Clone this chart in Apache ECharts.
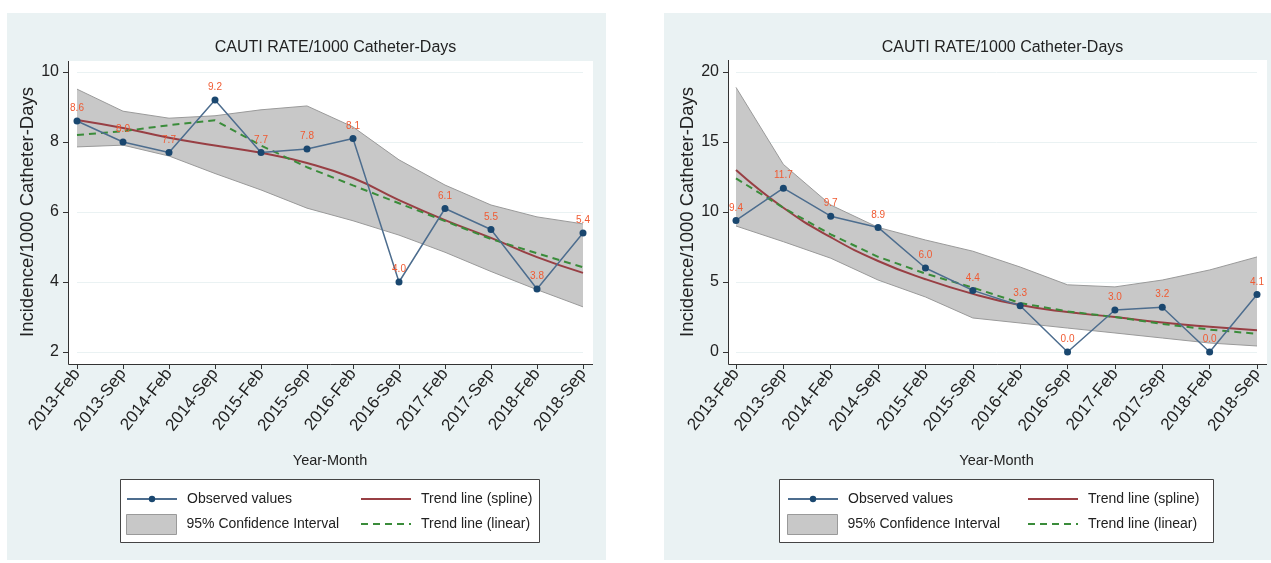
<!DOCTYPE html>
<html>
<head>
<meta charset="utf-8">
<title>CAUTI rate</title>
<script src="https://cdn.jsdelivr.net/npm/echarts@6/dist/echarts.min.js"></script>
<style>
  html, body { margin: 0; padding: 0; background: #fff; }
  #chart { width: 1271px; height: 563px; }
</style>
</head>
<body>
<div id="chart"></div>
<script>
// categories
const months = ['2013-Feb', '2013-Sep', '2014-Feb', '2014-Sep', '2015-Feb', '2015-Sep',
  '2016-Feb', '2016-Sep', '2017-Feb', '2017-Sep', '2018-Feb', '2018-Sep'];

// left panel
const observedA = [8.6, 8.0, 7.7, 9.2, 7.7, 7.8, 8.1, 4.0, 6.1, 5.5, 3.8, 5.4];
const splineA = [8.63, 8.4, 8.12, 7.9, 7.69, 7.4, 6.97, 6.34, 5.77, 5.26, 4.71, 4.26];
const linearA = [8.2, 8.31, 8.48, 8.62, 7.9, 7.28, 6.76, 6.25, 5.74, 5.23, 4.82, 4.42];
const upperA = [9.51, 8.88, 8.68, 8.75, 8.92, 9.03, 8.43, 7.49, 6.77, 6.2, 5.86, 5.66];
const lowerA = [7.86, 7.91, 7.6, 7.1, 6.63, 6.11, 5.75, 5.34, 4.85, 4.3, 3.78, 3.29];
const ticksA = [2, 4, 6, 8, 10];

// right panel
const observedB = [9.4, 11.7, 9.7, 8.9, 6.0, 4.4, 3.3, 0.0, 3.0, 3.2, 0.0, 4.1];
const splineB = [13.0, 10.3, 8.2, 6.5, 5.2, 4.15, 3.35, 2.85, 2.5, 2.1, 1.8, 1.55];
const linearB = [12.4, 10.3, 8.4, 6.8, 5.6, 4.6, 3.5, 2.9, 2.5, 2.0, 1.6, 1.3];
const upperB = [18.9, 13.4, 10.5, 8.9, 8.0, 7.2, 6.07, 4.8, 4.65, 5.14, 5.86, 6.79];
const lowerB = [9.0, 7.88, 6.7, 5.14, 3.93, 2.43, 2.07, 1.71, 1.36, 1.0, 0.64, 0.43];
const ticksB = [0, 5, 10, 15, 20];

const FONT = '"Liberation Sans", Arial, sans-serif';
const BG = '#eaf2f3';
const TXT = '#222';

// layout per panel (box = white plot area, grid = where the ticks sit)
const panels = [
  { bg: [7, 13, 599, 547], box: [68, 61, 593, 364], gridLeft: 77, gridRight: 583,
    legendBox: [120, 479, 419, 63], cols: [126, 360],
    obs: observedA, spline: splineA, linear: linearA, upper: upperA, lower: lowerA, ticks: ticksA },
  { bg: [664, 13, 607, 547], box: [728, 60, 1267, 364], gridLeft: 736, gridRight: 1257,
    legendBox: [779, 479, 434, 63], cols: [787, 1027],
    obs: observedB, spline: splineB, linear: linearB, upper: upperB, lower: lowerB, ticks: ticksB }
];
const gridTop = 72, gridBottom = 352;

const option = {
  animation: false,
  backgroundColor: '#fff',
  title: [], grid: [], xAxis: [], yAxis: [], legend: [], series: [], graphic: []
};

panels.forEach((p, i) => {
  const [x0, y0, x1, y1] = p.box;
  const step = p.ticks[1] - p.ticks[0];

  option.graphic.push(
    { type: 'rect', z: -20, silent: true, shape: { x: p.bg[0], y: p.bg[1], width: p.bg[2], height: p.bg[3] }, style: { fill: BG } },
    { type: 'rect', z: -10, silent: true, shape: { x: x0, y: y0, width: x1 - x0, height: y1 - y0 }, style: { fill: '#fff' } },
    { type: 'polyline', z: 50, silent: true, shape: { points: [[x0 + 0.5, y0], [x0 + 0.5, y1 + 0.5], [x1, y1 + 0.5]] }, style: { stroke: '#333', lineWidth: 1, fill: null } },
    { type: 'rect', z: -5, silent: true, shape: { x: p.legendBox[0] + 0.5, y: p.legendBox[1] + 0.5, width: p.legendBox[2], height: p.legendBox[3] }, style: { fill: '#fff', stroke: '#444', lineWidth: 1 } }
  );

  option.title.push({
    text: 'CAUTI RATE/1000 Catheter-Days',
    left: (x0 + x1) / 2, top: 35, textAlign: 'center',
    textStyle: { fontFamily: FONT, fontSize: 16, fontWeight: 'normal', color: TXT }
  });

  option.grid.push({ left: p.gridLeft, width: p.gridRight - p.gridLeft, top: gridTop, height: gridBottom - gridTop });

  option.xAxis.push({
    type: 'category', gridIndex: i, data: months, boundaryGap: false,
    offset: y1 - gridBottom,
    name: 'Year-Month', nameLocation: 'middle', nameGap: 89,
    nameTextStyle: { fontFamily: FONT, fontSize: 14.5, color: TXT },
    axisLine: { show: false, onZero: false },
    axisTick: { show: true, length: 5, lineStyle: { color: '#333' } },
    axisLabel: { rotate: 52, margin: 7, fontFamily: FONT, fontSize: 17, color: TXT, interval: 0 },
    splitLine: { show: false }
  });

  option.yAxis.push({
    type: 'value', gridIndex: i,
    min: p.ticks[0], max: p.ticks[p.ticks.length - 1], interval: step,
    offset: p.gridLeft - x0,
    name: 'Incidence/1000 Catheter-Days', nameLocation: 'middle', nameGap: 24,
    nameTextStyle: { fontFamily: FONT, fontSize: 18.5, color: TXT },
    axisLine: { show: false },
    axisTick: { show: true, length: 5, lineStyle: { color: '#333' } },
    axisLabel: { margin: 9, fontFamily: FONT, fontSize: 16, color: TXT },
    splitLine: { show: true, lineStyle: { color: BG, width: 1 } }
  });

  const stack = 'ci' + i;
  const band = p.upper.map((u, k) => +(u - p.lower[k]).toFixed(3));

  option.series.push(
    { name: 'ciLower', type: 'line', xAxisIndex: i, yAxisIndex: i, stack: stack, data: p.lower,
      symbol: 'none', silent: true, z: 1, lineStyle: { color: '#9a9a9a', width: 1 } },
    { name: '95% Confidence Interval', type: 'line', xAxisIndex: i, yAxisIndex: i, stack: stack, data: band,
      symbol: 'none', silent: true, z: 1, color: '#c8c8c8',
      lineStyle: { color: '#9a9a9a', width: 1 }, areaStyle: { color: '#c8c8c8', opacity: 1 } },
    { name: 'Trend line (spline)', type: 'line', xAxisIndex: i, yAxisIndex: i, data: p.spline,
      smooth: true, symbol: 'none', z: 3, color: '#983f44', lineStyle: { color: '#983f44', width: 2 } },
    { name: 'Trend line (linear)', type: 'line', xAxisIndex: i, yAxisIndex: i, data: p.linear,
      symbol: 'none', z: 3, color: '#3a8c3a', lineStyle: { color: '#3a8c3a', width: 2, type: [7, 5] } },
    { name: 'Observed values', type: 'line', xAxisIndex: i, yAxisIndex: i, data: p.obs,
      symbol: 'circle', symbolSize: 7, z: 5, color: '#1a476f',
      lineStyle: { color: '#4d6d8e', width: 1.5 }, itemStyle: { color: '#1a476f' },
      label: { show: true, position: 'top', distance: 4, fontFamily: FONT, fontSize: 10, color: '#f05a32',
        formatter: d => d.value.toFixed(1) } }
  );

  const lg = (name, left, top, h, extra) => ({
    data: [Object.assign({ name: name }, extra || {})],
    left: left, top: top, orient: 'vertical', selectedMode: false,
    itemWidth: 50, itemHeight: h, padding: 0,
    textStyle: { fontFamily: FONT, fontSize: 14, color: TXT, padding: [0, 0, 0, 5] }
  });
  option.legend.push(
    lg('Observed values', p.cols[0], 492, 8),
    lg('95% Confidence Interval', p.cols[0], 514, 20, { icon: 'rect', itemStyle: { color: '#c8c8c8', borderColor: '#9a9a9a', borderWidth: 1 } }),
    lg('Trend line (spline)', p.cols[1], 492, 8, { itemStyle: { color: 'transparent', borderWidth: 0 } }),
    lg('Trend line (linear)', p.cols[1], 517, 8, { itemStyle: { color: 'transparent', borderWidth: 0 } })
  );
});

const chart = echarts.init(document.getElementById('chart'));
chart.setOption(option);
</script>
</body>
</html>
